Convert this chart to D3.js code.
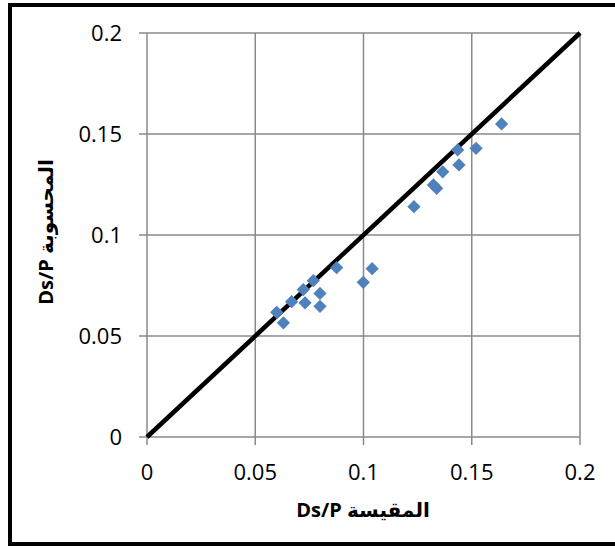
<!DOCTYPE html>
<html>
<head>
<meta charset="utf-8">
<script src="https://cdn.jsdelivr.net/npm/d3@7"></script>
<style>
  body { margin: 0; background: #fff; }
  svg { display: block; }
</style>
</head>
<body>
<div id="chart"></div>
<script>
// measured Ds/P (x) vs computed Ds/P (y)
var measured = [0.0599, 0.0630, 0.0668, 0.0722, 0.0730, 0.0768, 0.0799, 0.0799, 0.0876, 0.0999,
  0.1040, 0.1233, 0.1323, 0.1338, 0.1366, 0.1435, 0.1441, 0.1520, 0.1638];
var computed = [0.0617, 0.0565, 0.0670, 0.0730, 0.0664, 0.0774, 0.0711, 0.0647, 0.0838, 0.0766,
  0.0833, 0.1140, 0.1248, 0.1231, 0.1313, 0.1421, 0.1347, 0.1429, 0.1550];
var tickValues = [0, 0.05, 0.1, 0.15, 0.2];
var lineEnds = [0, 0.2];
var xTitle = "Ds/P المقيسة";
var yTitle = "Ds/P المحسوبة";

var width = 615, height = 548;
var margin = { top: 33, right: 35, bottom: 111, left: 147 };

var svg = d3.select( "#chart" ).append( "svg" )
  .attr( "width", width )
  .attr( "height", height );

// outer frame (right edge sits just outside the picture)
svg.append( "rect" )
  .attr( "x", 10 )
  .attr( "y", 5 )
  .attr( "width", 610 )
  .attr( "height", 539 )
  .style( "fill", "none" )
  .style( "stroke", "#000" )
  .style( "stroke-width", 4 );

var x = d3.scaleLinear().domain( [ 0, 0.2 ] ).range( [ margin.left, width - margin.right ] );
var y = d3.scaleLinear().domain( [ 0, 0.2 ] ).range( [ height - margin.bottom, margin.top ] );

var grid = "#8a8a8a";
var font = "'Open Sans', 'DejaVu Sans', sans-serif";

// gridlines
svg.append( "g" ).selectAll( "line" )
  .data( tickValues ).enter().append( "line" )
    .attr( "x1", d => x( d ) ).attr( "x2", d => x( d ) )
    .attr( "y1", y( 0.2 ) ).attr( "y2", y( 0 ) + 8 )
    .style( "stroke", grid ).style( "stroke-width", 1.5 );

svg.append( "g" ).selectAll( "line" )
  .data( tickValues ).enter().append( "line" )
    .attr( "x1", x( 0 ) - 8 ).attr( "x2", x( 0.2 ) )
    .attr( "y1", d => y( d ) ).attr( "y2", d => y( d ) )
    .style( "stroke", grid ).style( "stroke-width", 1.5 );

// tick labels
svg.append( "g" ).selectAll( "text" )
  .data( tickValues ).enter().append( "text" )
    .attr( "x", d => x( d ) )
    .attr( "y", y( 0 ) + 43 )
    .attr( "text-anchor", "middle" )
    .style( "font-family", font )
    .style( "font-size", "22px" )
    .text( d => d3.format( "" )( d ) );

svg.append( "g" ).selectAll( "text" )
  .data( tickValues ).enter().append( "text" )
    .attr( "x", x( 0 ) - 25 )
    .attr( "y", d => y( d ) )
    .attr( "dy", "0.35em" )
    .attr( "text-anchor", "end" )
    .style( "font-family", font )
    .style( "font-size", "22px" )
    .text( d => d3.format( "" )( d ) );

// 1:1 line
svg.append( "line" )
  .attr( "x1", x( lineEnds[ 0 ] ) ).attr( "y1", y( lineEnds[ 0 ] ) )
  .attr( "x2", x( lineEnds[ 1 ] ) ).attr( "y2", y( lineEnds[ 1 ] ) )
  .style( "stroke", "#000" )
  .style( "stroke-width", 4.5 );

// diamond markers
var diamond = d3.symbol().type( d3.symbolSquare ).size( 88 );
svg.append( "g" ).selectAll( "path" )
  .data( measured ).enter().append( "path" )
    .attr( "d", diamond )
    .attr( "transform", ( d, i ) => "translate(" + x( d ) + "," + y( computed[ i ] ) + ") rotate(45)" )
    .style( "fill", "#4f81bd" );

// axis titles
svg.append( "text" )
  .attr( "x", 363 )
  .attr( "y", 517 )
  .attr( "text-anchor", "middle" )
  .style( "font-family", font )
  .style( "font-size", "20px" )
  .style( "font-weight", "bold" )
  .text( xTitle );

svg.append( "text" )
  .attr( "transform", "translate(53,232) rotate(-90)" )
  .attr( "text-anchor", "middle" )
  .style( "font-family", font )
  .style( "font-size", "20px" )
  .style( "font-weight", "bold" )
  .text( yTitle );
</script>
</body>
</html>
